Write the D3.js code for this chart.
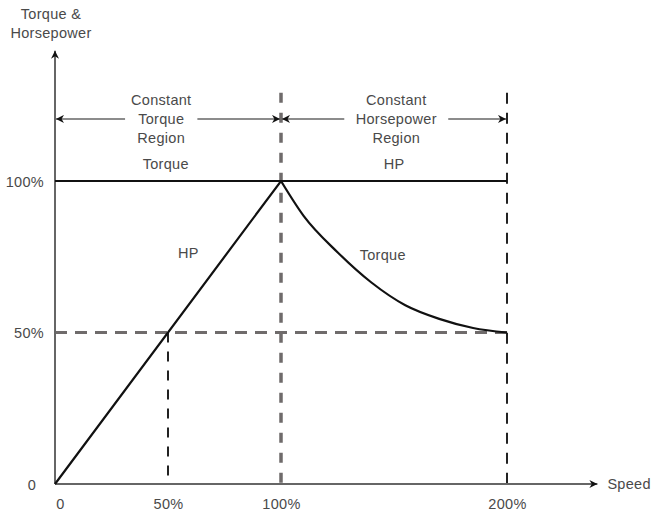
<!DOCTYPE html>
<html>
<head>
<meta charset="utf-8">
<script src="https://cdn.jsdelivr.net/npm/d3@7"></script>
<style>
  body { margin: 0; background: #fff; }
  text { font-family: "Liberation Sans", Arial, sans-serif; font-size: 14.5px; fill: #4a4a4a; letter-spacing: 0.3px; }
</style>
</head>
<body>
<div id="chart"></div>
<script>
// speed (% of base) and output (% of rated)
const xTicks = [0, 50, 100, 200];
const xTickLabels = ["0", "50%", "100%", "200%"];
const yTicks = [0, 50, 100];
const yTickLabels = ["0", "50%", "100%"];

const hpSpeed = [0, 100, 200];
const hpValue = [0, 100, 100];

const torqueSpeed = [0, 100, 110, 125, 140, 155, 170, 185, 200];
const torqueValue = [100, 100, 88.5, 76.5, 66.5, 59, 54.5, 51.5, 50];

const width = 654, height = 512;

const x = d3.scaleLinear().domain([0, 200]).range([55, 507]);
const y = d3.scaleLinear().domain([0, 100]).range([484, 181]);

const svg = d3.select("#chart").append("svg")
    .attr("width", width)
    .attr("height", height);

const defs = svg.append("defs");
defs.append("marker")
    .attr("id", "arr")
    .attr("viewBox", "0 0 10 10")
    .attr("refX", 10).attr("refY", 5)
    .attr("markerWidth", 12).attr("markerHeight", 8)
    .attr("markerUnits", "userSpaceOnUse")
    .attr("orient", "auto-start-reverse")
    .append("path")
    .attr("d", "M0,0 L10,5 L0,10 L3,5 Z")
    .attr("fill", "#111");

// guide lines (dashed)
svg.append("line")
    .attr("x1", x(0)).attr("x2", x(200))
    .attr("y1", y(50)).attr("y2", y(50))
    .attr("stroke", "#6f6b6b").attr("stroke-width", 3)
    .attr("stroke-dasharray", "12,8");

svg.append("line")
    .attr("x1", x(50)).attr("x2", x(50))
    .attr("y1", y(50)).attr("y2", y(0))
    .attr("stroke", "#222").attr("stroke-width", 2)
    .attr("stroke-dasharray", "10,9");

svg.append("line")
    .attr("x1", x(100)).attr("x2", x(100))
    .attr("y1", y(143) + 42).attr("y2", y(0))
    .attr("stroke", "#6f6b6b").attr("stroke-width", 3.5)
    .attr("stroke-dasharray", "10,10");

svg.append("line")
    .attr("x1", x(200)).attr("x2", x(200))
    .attr("y1", y(143) + 42).attr("y2", y(0))
    .attr("stroke", "#222").attr("stroke-width", 2)
    .attr("stroke-dasharray", "11,9");

// axes
svg.append("line")
    .attr("x1", x(0)).attr("x2", x(0))
    .attr("y1", y(0)).attr("y2", y(143))
    .attr("stroke", "#666").attr("stroke-width", 2)
    .attr("marker-end", "url(#arr)");

svg.append("line")
    .attr("x1", x(0)).attr("x2", x(240))
    .attr("y1", y(0)).attr("y2", y(0))
    .attr("stroke", "#666").attr("stroke-width", 2)
    .attr("marker-end", "url(#arr)");

svg.append("g")
    .attr("transform", `translate(0,${y(0) + 12})`)
    .call(d3.axisBottom(x).tickValues(xTicks).tickSize(0)
        .tickFormat((d, i) => xTickLabels[i]))
    .call(g => g.select(".domain").remove())
    .call(g => g.selectAll("text").attr("font-size", null).attr("fill", null)
        .attr("font-family", null)
        .attr("dx", (d, i) => i === 0 ? 5 : 0));

svg.append("g")
    .attr("transform", `translate(${x(0) - 8},0)`)
    .call(d3.axisLeft(y).tickValues(yTicks).tickSize(0)
        .tickFormat((d, i) => yTickLabels[i]))
    .call(g => g.select(".domain").remove())
    .call(g => g.selectAll("text").attr("font-size", null).attr("fill", null)
        .attr("font-family", null)
        .attr("dx", (d, i) => i === 0 ? -8 : 0)
        .attr("dy", (d, i) => i === 0 ? "0.4em" : "0.35em"));

svg.append("text").attr("x", x(0) - 4).attr("y", 19)
    .attr("text-anchor", "middle").text("Torque &");
svg.append("text").attr("x", x(0) - 4).attr("y", 38)
    .attr("text-anchor", "middle").text("Horsepower");
svg.append("text").attr("x", x(240) + 10).attr("y", y(0) + 5)
    .text("Speed");

// constant curves
const line = d3.line().x(d => x(d[0])).y(d => y(d[1]));
const smooth = d3.line().x(d => x(d[0])).y(d => y(d[1])).curve(d3.curveMonotoneX);

svg.append("path")
    .datum(hpSpeed.map((s, i) => [s, hpValue[i]]))
    .attr("d", line)
    .attr("fill", "none").attr("stroke", "#111").attr("stroke-width", 2.2);

const torque = torqueSpeed.map((s, i) => [s, torqueValue[i]]);
// flat part straight, falling part smooth
svg.append("path")
    .datum(torque.filter(d => d[0] <= 100))
    .attr("d", line)
    .attr("fill", "none").attr("stroke", "#111").attr("stroke-width", 2.2);
svg.append("path")
    .datum(torque.filter(d => d[0] >= 100))
    .attr("d", smooth)
    .attr("fill", "none").attr("stroke", "#111").attr("stroke-width", 2.2);

// region arrows
const regionY = y(120.5);
const regions = [
    {from: 0, to: 100, gap: [31, 63], lines: ["Constant", "Torque", "Region"]},
    {from: 100, to: 200, gap: [128, 174], lines: ["Constant", "Horsepower", "Region"]}
];
regions.forEach(r => {
    svg.append("line")
        .attr("x1", x(r.gap[0])).attr("x2", x(r.from) + 1)
        .attr("y1", regionY).attr("y2", regionY)
        .attr("stroke", "#666").attr("stroke-width", 1.5)
        .attr("marker-end", "url(#arr)");
    svg.append("line")
        .attr("x1", x(r.gap[1])).attr("x2", x(r.to) - 1)
        .attr("y1", regionY).attr("y2", regionY)
        .attr("stroke", "#666").attr("stroke-width", 1.5)
        .attr("marker-end", "url(#arr)");
    const cx = (x(r.gap[0]) + x(r.gap[1])) / 2;
    r.lines.forEach((t, i) => {
        svg.append("text").attr("x", cx).attr("y", regionY - 14 + i * 19)
            .attr("text-anchor", "middle").text(t);
    });
});

// curve labels
svg.append("text").attr("x", x(49)).attr("y", y(104)).attr("text-anchor", "middle").text("Torque");
svg.append("text").attr("x", x(150)).attr("y", y(104)).attr("text-anchor", "middle").text("HP");
svg.append("text").attr("x", x(59)).attr("y", y(74.5)).attr("text-anchor", "middle").text("HP");
svg.append("text").attr("x", x(145)).attr("y", y(74)).attr("text-anchor", "middle").text("Torque");
</script>
</body>
</html>
